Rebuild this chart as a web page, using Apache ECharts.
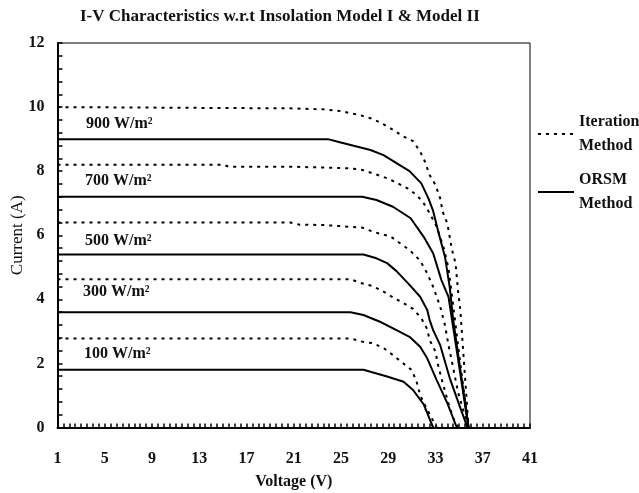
<!DOCTYPE html>
<html>
<head>
<meta charset="utf-8">
<script src="https://cdn.jsdelivr.net/npm/echarts@6/dist/echarts.min.js"></script>
<style>
  html, body { margin: 0; padding: 0; background: #fff; }
  #chart { width: 639px; height: 493px; }
</style>
</head>
<body>
<div id="chart"></div>
<script>
// Irradiance levels, one curve pair per level
const irradianceLabels = ['900 W/m²', '700 W/m²', '500 W/m²', '300 W/m²', '100 W/m²'];

// Iteration method curves (voltage in V, current in A)
const iterV900 = [1, 20.7, 23.5, 24.9, 26.6, 27.7, 28.6, 29.4, 30.3, 31.1, 31.7, 32.1, 32.5, 33.0, 33.4, 33.6, 34.0, 34.4, 34.7, 34.9, 35.1, 35.8];
const iterI900 = [10.0, 9.96, 9.93, 9.88, 9.75, 9.63, 9.46, 9.29, 9.08, 8.94, 8.61, 8.30, 7.88, 7.57, 7.15, 6.74, 6.37, 5.54, 5.12, 4.29, 3.67, 0];
const iterV700 = [1, 15, 15.5, 20.7, 25.8, 26.8, 27.7, 28.9, 29.7, 30.6, 31.4, 32.0, 32.5, 33.1, 33.7, 34.1, 34.4, 34.7, 35.2, 35.8];
const iterI700 = [8.2, 8.2, 8.14, 8.14, 8.09, 8.04, 7.93, 7.78, 7.64, 7.47, 7.26, 7.0, 6.69, 6.27, 5.6, 4.98, 4.1, 3.2, 1.7, 0];
const iterV500 = [1, 20.7, 21.5, 23.5, 26.8, 27.7, 29.2, 30.0, 30.8, 31.7, 32.3, 32.8, 33.4, 33.8, 34.1, 34.5, 34.9, 35.4, 35.8];
const iterI500 = [6.4, 6.4, 6.33, 6.32, 6.24, 6.11, 5.96, 5.75, 5.54, 5.21, 4.81, 4.39, 3.77, 3.2, 2.57, 1.86, 1.11, 0.48, 0];
const iterV300 = [1, 25.8, 26.6, 27.7, 28.6, 29.4, 30.3, 31.1, 31.8, 32.3, 32.5, 33.0, 33.2, 33.5, 33.8, 34.1, 34.5, 34.9];
const iterI300 = [4.63, 4.63, 4.52, 4.41, 4.24, 4.06, 3.88, 3.70, 3.41, 3.07, 2.73, 2.37, 1.98, 1.54, 1.14, 0.75, 0.3, 0];
const iterV100 = [1, 25.8, 26.8, 27.7, 28.6, 29.4, 30.1, 31.0, 31.4, 31.7, 32.1, 33.1];
const iterI100 = [2.78, 2.78, 2.68, 2.63, 2.48, 2.26, 2.05, 1.79, 1.43, 1.01, 0.7, 0];

// ORSM method curves (voltage in V, current in A)
const orsmV900 = [1, 23.9, 24.9, 27.5, 28.6, 29.7, 30.8, 31.8, 32.4, 32.8, 33.2, 33.8, 34.2, 34.5, 35.8];
const orsmI900 = [9.0, 9.0, 8.9, 8.66, 8.5, 8.25, 8.0, 7.62, 7.15, 6.76, 6.16, 5.33, 4.39, 3.36, 0];
const orsmV700 = [1, 26.8, 28.0, 29.4, 30.9, 32.0, 32.8, 33.5, 34.1, 34.4, 35.8];
const orsmI700 = [7.2, 7.2, 7.1, 6.89, 6.53, 5.95, 5.44, 4.6, 4.08, 3.36, 0];
const orsmV500 = [1, 26.9, 28.0, 28.9, 29.7, 30.8, 31.7, 32.3, 32.5, 32.8, 33.4, 34.2, 35.1, 35.7];
const orsmI500 = [5.4, 5.4, 5.28, 5.13, 4.88, 4.45, 4.08, 3.67, 3.36, 3.04, 2.57, 1.55, 0.61, 0];
const orsmV300 = [1, 25.8, 26.9, 28.3, 29.7, 30.8, 31.7, 32.3, 33.1, 34.0, 34.8];
const orsmI300 = [3.6, 3.6, 3.51, 3.3, 3.04, 2.83, 2.52, 2.16, 1.48, 0.76, 0];
const orsmV100 = [1, 26.9, 28.9, 30.3, 31.1, 32.0, 32.8];
const orsmI100 = [1.8, 1.8, 1.59, 1.43, 1.17, 0.72, 0];

// Axis tick labels
const xTickLabels = [1, 5, 9, 13, 17, 21, 25, 29, 33, 37, 41];
const yTickLabels = [0, 2, 4, 6, 8, 10, 12];

const ITER_NAME = 'Iteration\nMethod';
const ORSM_NAME = 'ORSM\nMethod';
const SERIF = '"Liberation Serif", "Times New Roman", serif';

// small ticks every half volt along the voltage axis
const xSmallTicks = [];
for (let v = xTickLabels[0]; v <= xTickLabels[xTickLabels.length - 1] + 1e-9; v += 0.5) xSmallTicks.push(v);

function pairs(vs, is) { return vs.map((v, k) => [v, is[k]]); }

function curve(name, vs, is, dotted) {
  return {
    name: name,
    type: 'line',
    data: pairs(vs, is),
    symbol: 'none',
    silent: true,
    itemStyle: { color: '#000' },
    lineStyle: dotted
      ? { color: '#000', width: 2, type: [3, 5] }
      : { color: '#000', width: 2, type: 'solid' },
    z: dotted ? 3 : 4
  };
}

const series = [
  curve(ITER_NAME, iterV900, iterI900, true),
  curve(ITER_NAME, iterV700, iterI700, true),
  curve(ITER_NAME, iterV500, iterI500, true),
  curve(ITER_NAME, iterV300, iterI300, true),
  curve(ITER_NAME, iterV100, iterI100, true),
  curve(ORSM_NAME, orsmV900, orsmI900, false),
  curve(ORSM_NAME, orsmV700, orsmI700, false),
  curve(ORSM_NAME, orsmV500, orsmI500, false),
  curve(ORSM_NAME, orsmV300, orsmI300, false),
  curve(ORSM_NAME, orsmV100, orsmI100, false)
];

// irradiance captions placed inside the plot, top to bottom
const captionTops = [116, 173, 233, 284, 346];
const captionLefts = [86, 85, 85, 83, 84];

const chart = echarts.init(document.getElementById('chart'), null, { renderer: 'canvas' });
chart.setOption({
  animation: false,
  backgroundColor: '#fff',
  title: {
    text: 'I-V Characteristics w.r.t Insolation Model I & Model II',
    left: 80,
    top: 8,
    padding: 0,
    textStyle: { fontFamily: SERIF, fontWeight: 'bold', fontSize: 17, color: '#111' }
  },
  legend: {
    data: [ITER_NAME, ORSM_NAME],
    orient: 'vertical',
    left: 537,
    top: 110,
    padding: 0,
    itemGap: 10,
    itemWidth: 36,
    itemHeight: 12,
    selectedMode: false,
    itemStyle: { opacity: 0 },
    textStyle: { fontFamily: SERIF, fontWeight: 'bold', fontSize: 16, lineHeight: 24, color: '#111' }
  },
  grid: {
    left: 57.5, right: 109, top: 43, bottom: 65.5,
    outerBoundsMode: 'none',
    containLabel: false,
    show: true, borderColor: '#000', borderWidth: 1, backgroundColor: 'transparent'
  },
  xAxis: {
    type: 'value',
    min: xTickLabels[0],
    max: xTickLabels[xTickLabels.length - 1],
    name: 'Voltage (V)',
    nameLocation: 'middle',
    nameGap: 46,
    nameMoveOverlap: false,
    nameTextStyle: { fontFamily: SERIF, fontWeight: 'bold', fontSize: 16, color: '#111' },
    axisLine: { show: true, lineStyle: { color: '#000', width: 2 } },
    axisTick: { show: true, inside: true, length: 4, customValues: xSmallTicks, lineStyle: { color: '#000', width: 1.5 } },
    axisLabel: { customValues: xTickLabels, margin: 23, fontFamily: SERIF, fontWeight: 'bold', fontSize: 16, color: '#111' },
    splitLine: { show: false }
  },
  yAxis: {
    type: 'value',
    min: yTickLabels[0],
    max: yTickLabels[yTickLabels.length - 1],
    interval: yTickLabels[1] - yTickLabels[0],
    name: 'Current (A)',
    nameLocation: 'middle',
    nameGap: 31,
    nameMoveOverlap: false,
    nameRotate: 90,
    nameTextStyle: { fontFamily: SERIF, fontWeight: 'normal', fontSize: 17, color: '#111' },
    axisLine: { show: true, lineStyle: { color: '#000', width: 2 } },
    axisTick: { show: true, inside: true, length: 5, lineStyle: { color: '#000', width: 1.5 } },
    minorTick: { show: true, splitNumber: 5, length: 5, lineStyle: { color: '#000', width: 1.5 } },
    axisLabel: { margin: 13, fontFamily: SERIF, fontWeight: 'bold', fontSize: 16, color: '#111' },
    splitLine: { show: false },
    minorSplitLine: { show: false }
  },
  graphic: irradianceLabels.map((t, k) => ({
    type: 'text',
    left: captionLefts[k],
    top: captionTops[k],
    silent: true,
    style: { text: t, font: 'bold 16px ' + SERIF, fill: '#111' }
  })),
  series: series
});
</script>
</body>
</html>
